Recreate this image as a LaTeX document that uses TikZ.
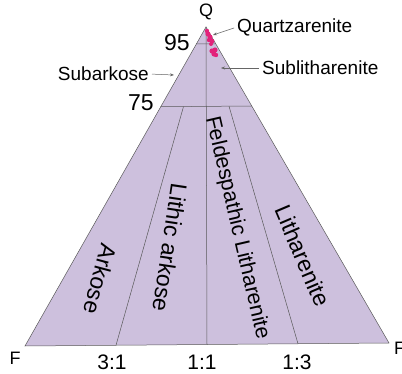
\documentclass[tikz,border=0pt]{standalone}
\usepackage{fontspec}
\setmainfont{Liberation Sans}
\usetikzlibrary{calc,arrows.meta}
\definecolor{qflfill}{RGB}{205,192,221}
\definecolor{qzdot}{RGB}{226,34,122}

\begin{document}
\begin{tikzpicture}[x=1pt, y=1pt,
  every node/.style={inner sep=0pt},
  edge/.style={draw=black!65, line width=0.5pt},
  field/.style={font=\fontsize{23}{23}\selectfont},
  corner/.style={font=\fontsize{18}{18}\selectfont},
  ratio/.style={font=\fontsize{21}{21}\selectfont},
  pct/.style={font=\fontsize{23}{23}\selectfont},
  note/.style={font=\fontsize{19}{19}\selectfont},
  pointer/.style={draw=black!60, line width=0.5pt, shorten <=3pt, -{Stealth[length=4pt,width=3pt]}}
]
\useasboundingbox (0,0) rectangle (402,373);

% corners of the triangle
\coordinate (Q)  at (206,346);
\coordinate (FL) at (25,27);
\coordinate (FR) at (389,30);

% ratio points on the base
\coordinate (r31) at ($(FL)!0.25!(FR)$);
\coordinate (r11) at ($(FL)!0.5!(FR)$);
\coordinate (r13) at ($(FL)!0.75!(FR)$);

\fill[qflfill] (Q) -- (FL) -- (FR) -- cycle;
\draw[edge] (Q) -- (FL) -- (FR) -- cycle;

% 95 and 75 lines
\draw[edge] ($(Q)!0.053!(FL)$) -- ($(Q)!0.053!(FR)$);
\draw[edge] ($(Q)!0.25!(FL)$) -- ($(Q)!0.25!(FR)$);

% ratio lines
\draw[edge] (Q) -- (r11);
\draw[edge] ($(Q)!0.25!(r31)$) -- (r31);
\draw[edge] ($(Q)!0.25!(r13)$) -- (r13);

% samples
\foreach \x/\y/\r in {207/342/2.2, 208/339/2.6, 210/336/2.6, 209/333/2.2, 212/332/2.4, 211/329/2.0,
                      212/322/2.6, 215/323/2.6, 214/319/2.6, 216/318/2.2}
  \fill[qzdot] (\x,\y) circle (\r);

% corner and scale labels
\node[corner] (lQ) at (206,361) {Q};
\node[corner] (lFL) at (15,15) {F};
\node[corner, anchor=west] (lFR) at (394,25) {F};
\node[pct] (l95) at (177,330) {95};
\node[pct] (l75) at (141,270) {75};
\node[ratio] (l31) at (112,11) {3:1};
\node[ratio] (l11) at (202,11) {1:1};
\node[ratio] (l13) at (297,11) {1:3};

% field names
\node[field, rotate=-105] (ark) at (100,94) {Arkose};
\node[field, rotate=-98.5] (lark) at (170,125) {Lithic arkose};
\node[field, rotate=-77, font=\fontsize{21.5}{21.5}\selectfont] (flit) at (237,145) {Feldespathic Litharenite};
\node[field, rotate=-67] (lit) at (303,117) {Litharenite};

% pointed fields
\node[note, anchor=west] (qz) at (237,346) {Quartzarenite};
\node[note, anchor=west] (slit) at (262,305) {Sublitharenite};
\node[note, anchor=east] (sark) at (149,299) {Subarkose};
\coordinate (qzpt) at (213,338);
\coordinate (slitpt) at (221,305);
\coordinate (sarkpt) at (174,298);
\draw[pointer] (qz.west) -- (qzpt);
\draw[pointer] (slit.west) -- (slitpt);
\draw[pointer] (sark.east) -- (sarkpt);
\end{tikzpicture}
\end{document}
